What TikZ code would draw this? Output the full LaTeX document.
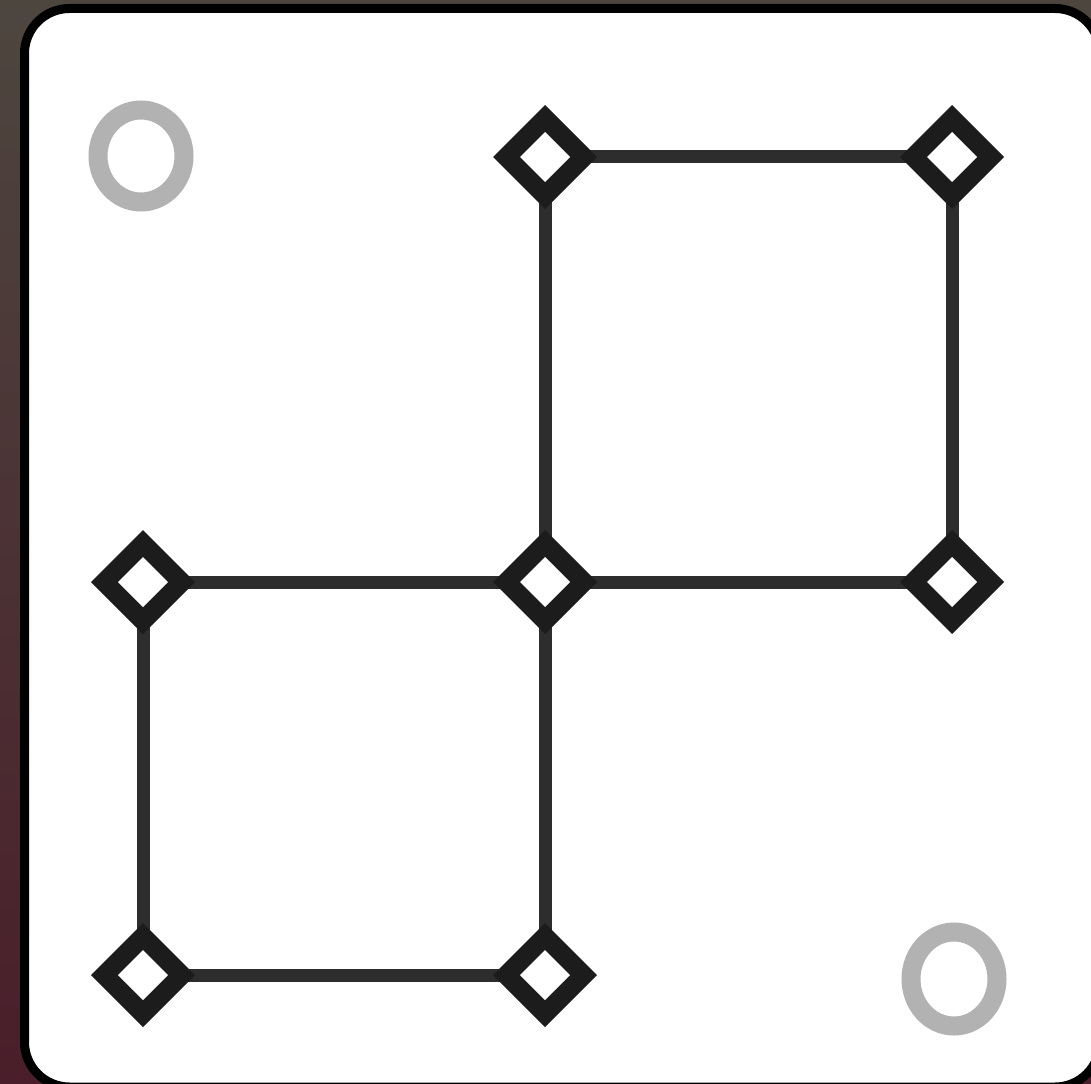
\documentclass[tikz,border=0pt]{standalone}
\definecolor{bgtop}{HTML}{4D463F}
\definecolor{bgbot}{HTML}{4A1E2A}
\definecolor{ink}{HTML}{1C1C1C}
\definecolor{wire}{HTML}{2D2D2D}
\definecolor{ring}{HTML}{B2B2B2}
\tikzset{
  vtxout/.style={fill=ink},
  vtxin/.style={fill=white},
  edge/.style={draw=wire, line width=13pt},
  hole/.style={draw=ring, line width=19pt}
}
\newcommand{\dmd}[1]{%
  \fill[vtxout, shift={(#1)}] (0,-52) -- (52,0) -- (0,52) -- (-52,0) -- cycle;
  \fill[vtxin, shift={(#1)}] (0,-25) -- (25,0) -- (0,25) -- (-25,0) -- cycle;}
\begin{document}
\begin{tikzpicture}[x=1pt,y=-1pt]
\useasboundingbox (0,0) rectangle (1091,1083);
\shade[top color=bgtop, bottom color=bgbot] (0,0) rectangle (1091,1083);
\draw[line width=9pt, fill=white, rounded corners=45pt] (24.5,8.5) rectangle (1100,1087);
% holes
\draw[hole] (141,156) ellipse [x radius=43, y radius=46];
\draw[hole] (954,979) ellipse [x radius=43, y radius=47];
% vertices
\coordinate (a) at (545,157);
\coordinate (b) at (952,157);
\coordinate (c) at (143,582);
\coordinate (d) at (545,582);
\coordinate (e) at (952,582);
\coordinate (f) at (143,975);
\coordinate (g) at (545,975);
% connectors
\draw[edge] (a) -- (b);
\draw[edge] (a) -- (d);
\draw[edge] (b) -- (e);
\draw[edge] (c) -- (d);
\draw[edge] (d) -- (e);
\draw[edge] (c) -- (f);
\draw[edge] (d) -- (g);
\draw[edge] (f) -- (g);
\dmd{a}\dmd{b}\dmd{c}\dmd{d}\dmd{e}\dmd{f}\dmd{g}
\end{tikzpicture}
\end{document}
